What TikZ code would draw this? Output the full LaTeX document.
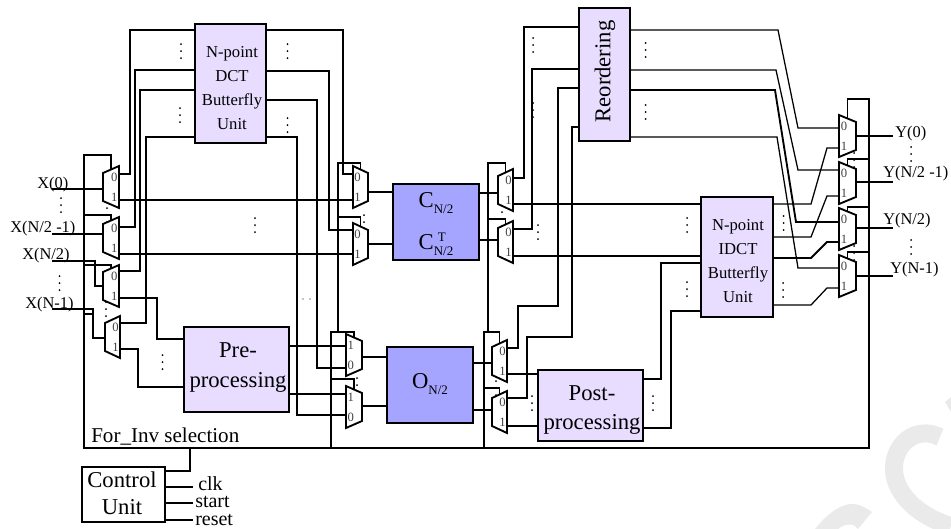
\documentclass[tikz,border=0pt]{standalone}
\usepackage{fontspec}
\usepackage{graphicx}
\setmainfont{Liberation Serif}
\usetikzlibrary{calc}
\definecolor{unitlilac}{HTML}{E8DDFF}
\definecolor{unitblue}{HTML}{A5A5FF}
\definecolor{markgrey}{HTML}{EAEAEA}
\tikzset{
  wire/.style={line width=0.95pt, line join=miter},
  wirebold/.style={line width=1.4pt, line join=miter},
  unittext/.style={inner sep=0pt, align=center, font=\fontsize{12.5}{17.8}\selectfont},
  proctext/.style={inner sep=0pt, align=center, font=\fontsize{17}{22}\selectfont},
  ctltext/.style={inner sep=0pt, align=center, font=\fontsize{17}{20.25}\selectfont},
  symtext/.style={inner sep=0pt, align=center, font=\fontsize{17}{31.5}\selectfont},
  portlabel/.style={inner sep=0pt, anchor=base west, font=\fontsize{12.3}{14}\selectfont},
  ctllabel/.style={inner sep=0pt, anchor=base west, font=\fontsize{15}{17}\selectfont},
  muxdigit/.style={inner sep=0pt, text=black!75, font=\fontsize{9.5}{10}\selectfont},
  watermark/.style={markgrey, line width=13.5pt}
}
\newcommand{\unitbox}[9]{%
  \node[draw, line width=1.15pt, fill=#6, inner sep=0pt, outer sep=0pt,
        minimum width={(#4-#2)*0.75pt}, minimum height={(#5-#3)*0.75pt}]
        (#1) at ({(#2+#4)/2},{(#3+#5)/2}) {};
  \node[#8] (#1-text) at (#7) {#9};}
\newcommand{\muxunit}[9]{%
  \draw[wirebold, fill=white] (#2,#4) -- (#3,#4+7) -- (#3,#4+35) -- (#2,#4+42) -- cycle;
  \coordinate (#1-t) at (#2,#5);
  \coordinate (#1-b) at (#2,#6);
  \coordinate (#1-o) at (#3,#7);
  \coordinate (#1-s) at ({(#2+#3)/2},#4+3.5);
  \node[muxdigit] (#1-tl) at ({#2+0.3*(#3-#2)},#4+11) {#8};
  \node[muxdigit] (#1-bl) at ({#2+0.3*(#3-#2)},#4+31) {#9};}
\newcommand{\dotmark}[2]{%
  \fill (#1,#2-7) circle[radius=0.75pt] (#1,#2) circle[radius=0.75pt] (#1,#2+7) circle[radius=0.75pt];}

\newcommand{\symsub}[2]{#1\raisebox{-4.5pt}{\fontsize{9.75}{10}\selectfont\rlap{\raisebox{10.5pt}{\hspace{3pt}#2}}N/2}}

\begin{document}
\begin{tikzpicture}[x=0.75pt, y=-0.75pt]
  \useasboundingbox (0,0) rectangle (951,529);
  % faint marks in the corner
  \draw[watermark] (940,437) .. controls (915,425) and (893,445) .. (894,470)
        .. controls (895,495) and (920,517) .. (951,526);
  \fill[markgrey] (815,529) .. controls (830,510) and (845,503) .. (853,504)
        .. controls (860,504) and (866,508) .. (872,512) -- (858,529)
        .. controls (855,524) and (847,522) .. (838,529) -- cycle;
  \fill[markgrey] (945,402) -- (951,397) -- (951,412) -- cycle;

  \dotmark{181}{51} \dotmark{180}{115} \dotmark{287.5}{51} \dotmark{287.5}{125}
  \dotmark{61}{205} \dotmark{107}{215} \dotmark{255}{225} \dotmark{162.5}{362}
  \dotmark{106}{309} \dotmark{59.5}{283} \dotmark{364}{222} \dotmark{533}{45}
  \dotmark{533}{110} \dotmark{502}{219} \dotmark{538}{232} \dotmark{357}{385}
  \dotmark{496}{388} \dotmark{532}{403} \dotmark{653}{403} \dotmark{645.5}{50}
  \dotmark{645.5}{112} \dotmark{911}{154} \dotmark{854}{160} \dotmark{854}{253}
  \dotmark{911}{247} \dotmark{687}{225} \dotmark{687}{289} \dotmark{783.5}{223}
  \dotmark{783}{290}
  \fill (303,299) circle[radius=0.5pt] (310,299) circle[radius=0.5pt] (317,299) circle[radius=0.5pt];

  \unitbox{dctunit}{195}{24}{266}{143}{unitlilac}{232,88}{unittext}{N-point\\DCT\\Butterfly\\Unit}
  \unitbox{idctunit}{701}{197}{773}{317}{unitlilac}{738,261}{unittext}{N-point\\IDCT\\Butterfly\\Unit}
  \unitbox{preunit}{184}{327}{289}{412}{unitlilac}{238,367.5}{proctext}{Pre-\\processing}
  \unitbox{postunit}{538}{370}{643}{441}{unitlilac}{592,410}{proctext}{Post-\\processing}
  \unitbox{reorderunit}{579}{8}{630}{141}{unitlilac}{605,71.5}{proctext}{\rotatebox{90}{Reordering}}
  \unitbox{cunit}{393}{184}{479}{260}{unitblue}{436,224.5}{symtext}{\symsub{C}{}\\\symsub{C}{T}}
  \unitbox{ounit}{387}{347}{473}{423}{unitblue}{430,384}{symtext}{\symsub{O}{}}
  \unitbox{ctlunit}{82}{467}{165}{522}{white}{122,493}{ctltext}{Control\\Unit}

  \muxunit{ma}{119}{103}{166}{174}{200}{189}{0}{1}
  \muxunit{mb}{119}{103}{217}{227}{254}{234}{0}{1}
  \muxunit{mc}{119}{103}{265}{271}{298}{286}{0}{1}
  \muxunit{md}{120}{105}{316}{323}{349}{338}{0}{1}
  \muxunit{ca}{353}{368}{166}{174}{200}{192}{0}{1}
  \muxunit{cb}{353}{368}{223}{230}{254}{244}{0}{1}
  \muxunit{oa}{346}{362}{334}{346}{368}{357}{1}{0}
  \muxunit{ob}{346}{362}{386}{394}{415}{406}{1}{0}
  \muxunit{ra}{513}{498}{169}{178}{204}{193}{0}{1}
  \muxunit{rb}{513}{498}{221}{229}{256}{240}{0}{1}
  \muxunit{pa}{507}{492}{340}{348}{374}{363}{0}{1}
  \muxunit{pb}{507}{492}{391}{398}{426}{410}{0}{1}
  \muxunit{ya}{839}{856}{115}{128}{148}{136}{0}{1}
  \muxunit{yb}{839}{856}{162}{170}{196}{182}{0}{1}
  \muxunit{yc}{839}{856}{208}{222}{242}{228}{0}{1}
  \muxunit{yd}{839}{856}{255}{268}{288}{276}{0}{1}

  \node[portlabel] (xa) at (37,188) {X(0)};
  \node[portlabel] (xb) at (10,232) {X(N/2 -1)};
  \node[portlabel] (xc) at (22,259) {X(N/2)};
  \node[portlabel] (xd) at (25,308) {X(N-1)};
  \node[portlabel] (ye) at (895,137) {Y(0)};
  \node[portlabel] (yf) at (883,177) {Y(N/2 -1)};
  \node[portlabel] (yg) at (883,224) {Y(N/2)};
  \node[portlabel] (yh) at (890,273) {Y(N-1)};
  \node[inner sep=0pt, anchor=base west, font=\fontsize{15.8}{18}\selectfont] (forinv) at (91,442) {For\_Inv selection};
  \node[ctllabel] (clk) at (198,490) {clk};
  \node[ctllabel] (start) at (195,507) {start};
  \node[ctllabel] (reset) at (195,525) {reset};

  \coordinate (xae) at (52,189);
  \coordinate (xbe) at (52,234);
  \coordinate (xce) at (52,261);
  \coordinate (xde) at (52,309);
  \coordinate (yee) at (893,136);
  \coordinate (yfe) at (893,182);
  \coordinate (yge) at (893,228);
  \coordinate (yhe) at (893,276);
  \coordinate (seltl) at (84,155);
  \coordinate (selbl) at (84,448);
  \coordinate (selbr) at (869,448);
  \coordinate (selrt) at (869,99);
  \coordinate (selc) at (190,448);
  \coordinate (selm) at (331,448);
  \coordinate (selp) at (484,448);
  \coordinate (selmt) at (338,332);
  \coordinate (selpt) at (488,332);
  \coordinate (clke) at (193,487);
  \coordinate (starte) at (193,503);
  \coordinate (resete) at (193,520);

  % inputs and first muxes
  \draw[wire] (xae) -- (ma-o);
  \draw[wire] (xbe) -- (mb-o);
  \draw[wire] (xce) -| (95,286) -- (mc-o);
  \draw[wire] (xde) -| (93,338) -- (md-o);
  \draw[wirebold] (ma-t) -| (130,30) -- (dctunit.west |- 0,30);
  \draw[wire] (mb-t) -| (135,70) -- (dctunit.west |- 0,70);
  \draw[wire] (mc-t) -| (140,90) -- (dctunit.west |- 0,90);
  \draw[wire] (md-t) -| (146,137) -- (dctunit.west |- 0,137);
  \draw[wirebold] (ma-b) -- (ca-b);
  \draw[wire] (mb-b) -- (cb-b);
  \draw[wire] (mc-b) -| (157,339) -- (preunit.west |- 0,339);
  \draw[wire] (md-b) -| (138,387) -- (preunit.west |- 0,387);

  % DCT and pre-processing to the middle
  \draw[wire] (dctunit.east |- 0,30) -| (343,174) -- (ca-t);
  \draw[wire] (dctunit.east |- 0,71) -| (329,230) -- (cb-t);
  \draw[wire] (dctunit.east |- 0,100) -| (317,368) -- (oa-b);
  \draw[wire] (dctunit.east |- 0,137) -| (297,415) -- (ob-b);
  \draw[wirebold] (preunit.east |- 0,346) -- (oa-t);
  \draw[wire] (preunit.east |- 0,394) -- (ob-t);
  \draw[wire] (ca-o) -- (cunit.west |- ca-o);
  \draw[wire] (cb-o) -- (cunit.west |- cb-o);
  \draw[wire] (oa-o) -- (ounit.west |- oa-o);
  \draw[wire] (ob-o) -- (ounit.west |- ob-o);
  \draw[wire] (cunit.east |- ra-o) -- (ra-o);
  \draw[wirebold] (cunit.east |- rb-o) -- (rb-o);
  \draw[wire] (ounit.east |- pa-o) -- (pa-o);
  \draw[wire] (ounit.east |- pb-o) -- (pb-o);

  % reordering and post-processing
  \draw[wirebold] (ra-t) -| (524,27) -- (reorderunit.west |- 0,27);
  \draw[wirebold] (rb-t) -| (532,69) -- (reorderunit.west |- 0,69);
  \draw[wire] (reorderunit.west |- 0,88) -| (558,306) -| (518,348) -- (pa-t);
  \draw[wire] (reorderunit.west |- 0,127) -| (572,337) -| (527,398) -- (pb-t);
  \draw[wire] (ra-b) -- (idctunit.west |- ra-b);
  \draw[wirebold] (rb-b) -- (idctunit.west |- rb-b);
  \draw[wire] (pa-b) -- (postunit.west |- pa-b);
  \draw[wirebold] (pb-b) -- (postunit.west |- pb-b);
  \draw[wire] (postunit.east |- 0,379) -| (661,263) -- (idctunit.west |- 0,263);
  \draw[wire] (postunit.east |- 0,428) -| (671,311) -- (idctunit.west |- 0,311);

  % to the output muxes
  \draw[wire] (reorderunit.east |- 0,30) -- (778,30) -- (798,128) -- (ya-t);
  \draw[wire] (reorderunit.east |- 0,70) -- (776,70) -- (798,170) -- (yb-t);
  \draw[wirebold] (reorderunit.east |- 0,90) -- (775,90) -- (796,222) -- (yc-t);
  \draw[wire] (reorderunit.east |- 0,137) -- (777,137) -- (798,268) -- (yd-t);
  \draw[wire] (idctunit.east |- 0,204) -- (811,204) -- (827,148) -- (ya-b);
  \draw[wire] (idctunit.east |- 0,237) -- (811,237) -- (827,196) -- (yb-b);
  \draw[wirebold] (idctunit.east |- 0,258) -- (811,258) -- (827,242) -- (yc-b);
  \draw[wire] (idctunit.east |- 0,305) -- (811,305) -- (827,288) -- (yd-b);
  \draw[wirebold] (ya-o) -- (yee);
  \draw[wire] (yb-o) -- (yfe);
  \draw[wire] (yc-o) -- (yge);
  \draw[wire] (yd-o) -- (yhe);

  % selection net
  \draw[wire] (ma-s) |- (seltl) -- (selbl) -- (selbr) -- (selrt) -| (ya-s);
  \draw[wire] (selbl |- 0,215) -| (mb-s);
  \draw[wire] (selbl |- 0,265) -| (mc-s);
  \draw[wire] (selbl |- 0,314) -- (93,314);
  \draw[wire] (selrt |- 0,159) -| (yb-s);
  \draw[wire] (selrt |- 0,207) -| (yc-s);
  \draw[wire] (selrt |- 0,252) -| (yd-s);
  \draw[wirebold] (selm) |- (selmt) -- (338,163) -| (ca-s);
  \draw[wire] (selm |- selmt) -| (oa-s);
  \draw[wire] (selm |- 0,379) -| (ob-s);
  \draw[wire] (selmt |- 0,217) -| (cb-s);
  \draw[wire] (selp) |- (selpt) -- (488,163) -| (ra-s);
  \draw[wire] (selp |- selpt) -| (pa-s);
  \draw[wire] (selp |- 0,388) -| (pb-s);
  \draw[wire] (selpt |- 0,219) -| (rb-s);

  % control unit
  \draw[wire] (ctlunit.east |- 0,471) -| (selc);
  \draw[wirebold] (ctlunit.east |- clke) -- (clke);
  \draw[wire] (ctlunit.east |- starte) -- (starte);
  \draw[wirebold] (ctlunit.east |- resete) -- (resete);
\end{tikzpicture}
\end{document}
